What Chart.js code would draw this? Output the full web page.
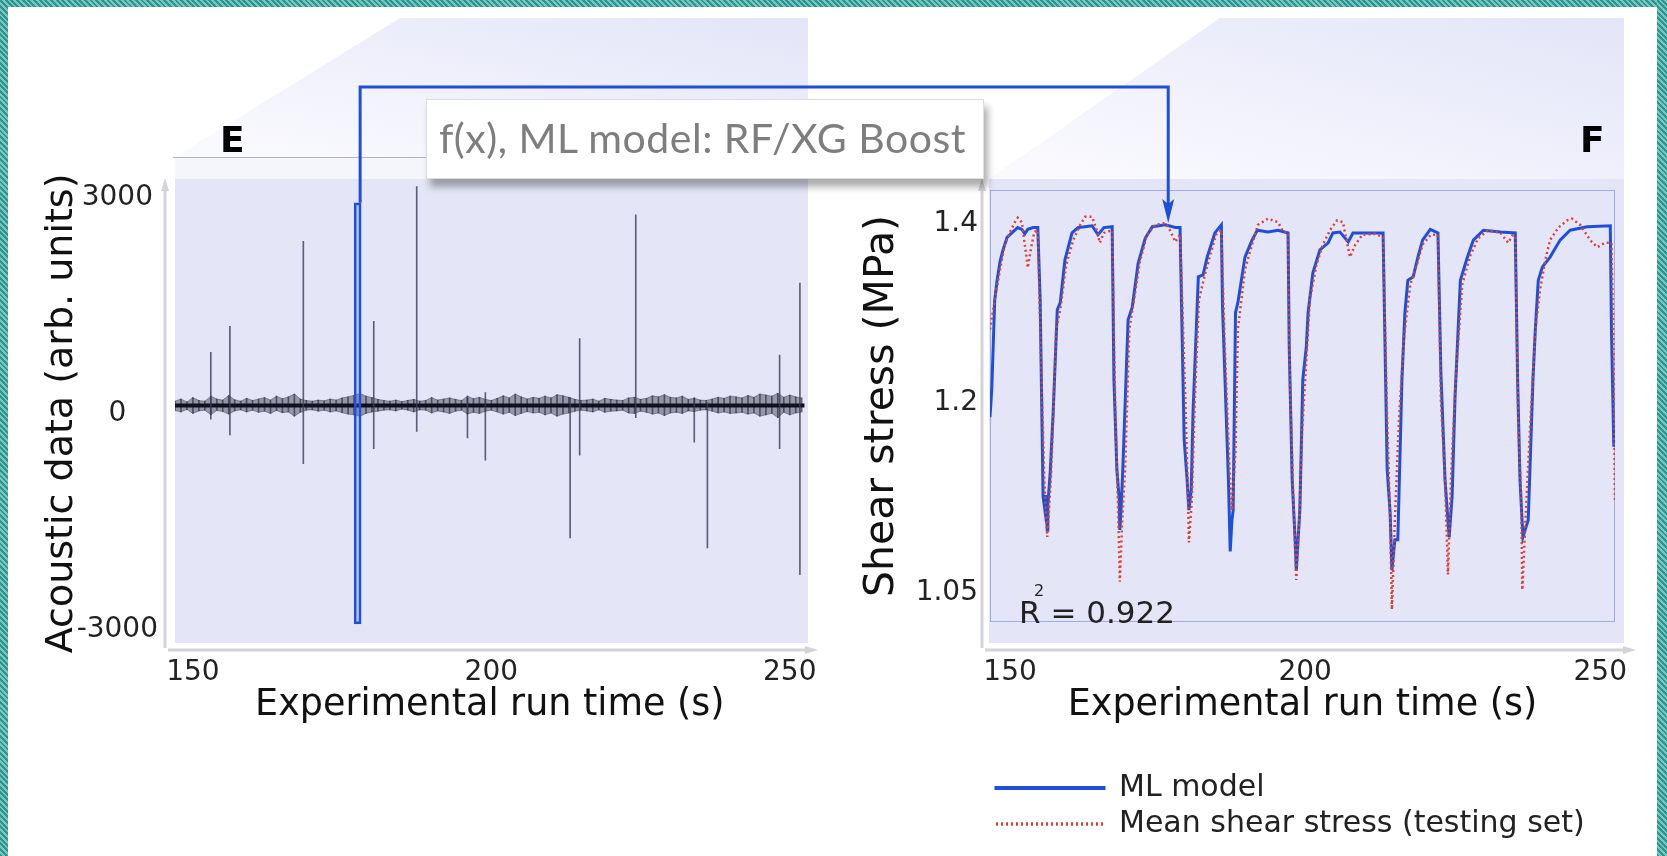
<!DOCTYPE html>
<html><head><meta charset="utf-8">
<script src="https://cdn.jsdelivr.net/npm/chart.js@4.4.1/dist/chart.umd.min.js"></script>
<style>
html,body{margin:0;padding:0;background:#fff;}
#page{position:relative;width:1667px;height:856px;overflow:hidden;background:#fff;font-family:"DejaVu Sans",sans-serif;}
.abs{position:absolute;}
.teal{position:absolute;background:repeating-linear-gradient(45deg,#2c9590 0px,#2c9590 2px,#79c6c1 2px,#79c6c1 4px);z-index:6;}
#box{position:absolute;left:426px;top:99px;width:558px;height:80px;background:#fff;border:1px solid #dcdcdc;box-sizing:border-box;box-shadow:4px 8px 7px rgba(0,0,0,0.32);z-index:4;font-family:Lato,"Open Sans",sans-serif;font-size:41px;color:#7e7e7e;line-height:76px;padding-left:12px;white-space:nowrap;letter-spacing:0.5px;}
.lbl{position:absolute;font-family:"DejaVu Sans",sans-serif;font-weight:bold;font-size:36px;line-height:36px;color:#000;z-index:4;}
#r2{position:absolute;left:1019px;top:594px;font-size:31px;line-height:36px;color:#222;z-index:4;white-space:pre;}
#r2s{position:absolute;left:1034px;top:583px;font-size:16px;line-height:16px;color:#222;z-index:4;}
</style></head>
<body><div id="page">
<svg class="abs" style="left:0;top:0;z-index:0" width="1667" height="856">
<defs>
<linearGradient id="gT" x1="0" y1="1" x2="1" y2="0">
<stop offset="0" stop-color="#fbfbfe"/><stop offset="1" stop-color="#e3e5f8"/>
</linearGradient>
</defs>
<polygon points="175,157 400,18 808,18 808,157" fill="url(#gT)"/>
<rect x="175" y="157" width="633" height="22" fill="#f5f6fc"/>
<line x1="173" y1="157.5" x2="808" y2="157.5" stroke="#b3b3bf" stroke-width="1"/>
<rect x="175" y="179" width="633" height="464" fill="#e4e6f8"/>
<polygon points="989,179 1220,18 1624,18 1624,179" fill="url(#gT)"/>
<rect x="989" y="179" width="635" height="464" fill="#e4e6f8"/>
<g stroke="#d3d3d8" stroke-width="3" fill="#d3d3d8">
<line x1="165" y1="648" x2="165" y2="190"/><polygon points="165,178 161,191 169,191" stroke="none"/>
<line x1="168" y1="650" x2="806" y2="650"/><polygon points="818,650 805,646 805,654" stroke="none"/>
<line x1="982" y1="648" x2="982" y2="190"/><polygon points="982,178 978,191 986,191" stroke="none"/>
<line x1="985" y1="650" x2="1624" y2="650"/><polygon points="1636,650 1623,646 1623,654" stroke="none"/>
</g>
</svg>
<canvas id="cE" class="abs" style="left:0;top:150px;z-index:1" width="830" height="600"></canvas>
<canvas id="cF" class="abs" style="left:840px;top:150px;z-index:1" width="827" height="706"></canvas>
<canvas id="ov" class="abs" style="left:0;top:0;z-index:3;pointer-events:none" width="1667" height="856"></canvas>
<div id="box">f(x), ML model: RF/XG Boost</div>
<div class="lbl" style="left:220px;top:122px;">E</div>
<div class="lbl" style="left:1580px;top:122px;">F</div>
<div id="r2">R = 0.922</div>
<div id="r2s">2</div>
<div class="teal" style="left:0;top:0;width:8px;height:856px;"></div>
<div class="teal" style="left:0;top:0;width:1667px;height:7px;"></div>
<div class="teal" style="left:1657px;top:0;width:10px;height:856px;"></div>
</div>
<script>
// ---------- Panel E : acoustic data ----------
const E_X_TICKS = [150, 200, 250];
const E_Y_TICKS = [-3000, 0, 3000];
const NOISE_T0 = 147;          // first noise bin (s), 1 s bins
const NOISE_BASE = 110;        // centre of the acoustic noise band
const NOISE_HI = [170,200,160,220,180,170,240,200,185,250,
 190,170,210,180,200,220,185,240,205,230,
 270,200,180,170,185,175,200,185,215,230,
 250,280,240,220,195,180,170,185,165,180,
 195,170,180,220,185,200,215,195,180,240,
 205,225,195,180,210,245,215,270,230,200,
 225,210,240,215,260,245,225,195,180,185,
 200,170,210,195,185,180,215,225,195,210,
 245,230,260,225,215,240,195,210,185,180,
 200,225,210,240,230,215,250,225,270,255,
 240,280,225,255,230,215];
const NOISE_LO = [40,20,55,0,35,45,-20,40,25,-10,
 35,50,20,45,15,30,0,40,10,20,
 -40,15,45,50,30,45,20,35,10,-10,
 -20,-40,0,20,30,45,50,35,60,45,
 20,50,45,5,35,20,0,30,45,-10,
 15,0,30,45,20,-10,15,-30,0,25,
 5,15,-20,5,-40,-10,5,30,45,35,
 20,50,15,30,35,45,5,0,30,15,
 -10,5,-30,5,15,0,35,25,45,50,
 30,5,20,0,5,15,-10,5,-40,-20,
 0,-60,15,-20,5,20];
const SPIKE_T  = [153.0,156.2,168.5,180.3,187.5,196.0,199.0,213.2,214.8,224.2,234.0,236.2,248.3,251.7];
const SPIKE_HI = [850,1210,2390,1280,3150,220,290,220,1040,2760,220,150,810,1810];
const SPIKE_LO = [-80,-300,-700,-490,-250,-340,-650,-1730,-580,-60,-400,-1870,-490,-2240];
const WINDOW_T = 177.6;        // selected window (blue rectangle)
const WINDOW_H = 2925;

// ---------- Panel F : shear stress ----------
const F_X_TICKS = [150, 200, 250];
const F_Y_TICKS = [0.988, 1.2, 1.4];
const F_Y_LABELS = ['1.05', '1.2', '1.4'];
const ML_T = [146.6,146.9,147.4,147.8,148.3,148.8,149.5,150.3,151.3,152.0,152.5,153.0,153.9,154.7,155.1,155.4,155.6,155.9,156.1,156.3,156.4,156.8,157.3,158.0,158.5,159.3,160.5,161.5,162.7,163.9,164.9,165.9,167.3,167.6,168.1,168.5,168.6,168.8,169.1,170.0,170.7,171.7,172.9,174.1,176.3,178.0,178.8,179.5,180.0,180.3,180.7,181.0,181.9,182.7,183.4,184.7,185.8,186.0,187.0,187.3,187.6,187.8,188.2,188.6,189.8,191.0,191.9,193.7,195.4,197.1,197.3,197.8,198.3,198.5,198.8,199.1,199.6,200.2,200.5,201.3,202.5,203.9,204.7,205.9,207.3,208.1,211.0,213.2,213.9,214.4,214.7,215.2,215.7,216.4,216.9,217.4,218.3,219.1,219.9,221.2,222.5,223.0,223.7,224.4,224.9,225.4,226.3,227.5,228.5,230.2,233.1,235.6,236.0,236.4,236.9,237.8,238.6,239.0,239.5,240.2,241.5,243.2,244.9,247.8,251.7,251.9,252.3];
const ML_V = [1.184,1.215,1.315,1.337,1.358,1.371,1.385,1.390,1.396,1.394,1.389,1.394,1.396,1.396,1.315,1.181,1.095,1.080,1.097,1.058,1.086,1.122,1.189,1.304,1.312,1.360,1.390,1.396,1.397,1.398,1.388,1.396,1.397,1.226,1.125,1.092,1.058,1.080,1.125,1.293,1.307,1.356,1.384,1.397,1.399,1.396,1.396,1.159,1.114,1.080,1.103,1.189,1.341,1.343,1.363,1.390,1.399,1.307,1.114,1.034,1.069,1.080,1.301,1.312,1.363,1.382,1.393,1.391,1.393,1.390,1.263,1.114,1.047,1.013,1.047,1.080,1.226,1.263,1.301,1.345,1.371,1.379,1.390,1.391,1.380,1.390,1.390,1.390,1.125,1.077,1.013,1.047,1.047,1.226,1.301,1.337,1.341,1.363,1.382,1.394,1.390,1.234,1.114,1.050,1.095,1.207,1.337,1.363,1.382,1.393,1.391,1.390,1.226,1.114,1.050,1.069,1.226,1.282,1.337,1.352,1.363,1.382,1.393,1.397,1.398,1.282,1.151];
const MEAN_T = [146.6,147.4,148.3,149.1,150.0,150.8,151.3,152.0,152.5,153.0,153.5,154.1,154.7,155.2,155.8,156.3,156.6,156.9,157.3,157.8,158.5,159.5,160.7,161.9,162.7,163.9,164.7,165.2,165.9,167.3,167.8,168.3,168.6,169.0,169.5,170.2,171.0,172.0,173.2,174.6,176.3,177.1,178.0,178.8,179.7,180.2,180.3,180.8,181.3,182.0,183.0,183.9,184.9,185.8,186.4,187.2,187.6,188.2,188.6,189.8,191.0,192.0,193.7,195.4,196.3,197.1,197.4,198.0,198.5,199.0,199.5,200.2,200.8,201.9,203.0,204.2,205.4,206.4,207.6,208.5,209.7,211.9,213.2,213.9,214.4,214.7,215.2,215.9,216.7,217.8,218.9,219.9,221.3,222.5,223.0,223.7,224.2,224.7,225.5,226.6,228.0,229.3,231.0,233.1,234.4,235.1,235.6,236.1,236.6,236.8,237.5,238.1,239.0,239.8,240.7,241.5,242.9,244.4,245.2,246.6,248.3,249.5,250.8,251.9,252.2,252.5];
const MEAN_V = [1.282,1.315,1.349,1.377,1.391,1.402,1.407,1.402,1.377,1.351,1.371,1.391,1.393,1.259,1.114,1.050,1.080,1.114,1.181,1.282,1.304,1.354,1.382,1.399,1.408,1.408,1.393,1.379,1.390,1.393,1.203,1.080,1.000,1.069,1.125,1.282,1.315,1.358,1.388,1.399,1.401,1.393,1.380,1.388,1.203,1.080,1.044,1.092,1.203,1.315,1.343,1.365,1.388,1.393,1.259,1.125,1.080,1.147,1.282,1.349,1.377,1.399,1.406,1.402,1.391,1.390,1.226,1.092,1.002,1.069,1.170,1.248,1.315,1.354,1.377,1.393,1.404,1.402,1.363,1.377,1.388,1.389,1.385,1.181,1.069,0.969,1.069,1.181,1.270,1.332,1.354,1.377,1.388,1.388,1.203,1.114,1.008,1.114,1.226,1.332,1.365,1.384,1.393,1.390,1.379,1.387,1.387,1.181,1.092,0.991,1.092,1.170,1.282,1.326,1.360,1.382,1.396,1.404,1.406,1.399,1.382,1.374,1.379,1.379,1.282,1.088];
const ARROW_T = 176.8;   // where the connector arrow points in panel F
const ARROW_V = 1.401;

// ---------- charts ----------
Chart.defaults.font.family = '"DejaVu Sans", sans-serif';
Chart.defaults.color = '#222';
const BLUE = '#1f4fd8';
const noGrid = {display:false, drawTicks:false, tickLength:0};

const chartE = new Chart(document.getElementById('cE'), {
  type: 'line',
  data: { datasets: [
    { type:'bar', label:'window', grouped:false, data:[{x:WINDOW_T, y:[-WINDOW_H, WINDOW_H]}],
      barThickness:7, backgroundColor:'rgba(70,110,235,0.28)', borderColor:BLUE, borderWidth:2, borderSkipped:false },
    { type:'bar', label:'spikes', grouped:false,
      data: SPIKE_T.map((t,i)=>({x:t, y:[SPIKE_LO[i], SPIKE_HI[i]]})),
      barThickness:1, backgroundColor:'rgba(60,60,88,0.8)', borderWidth:0 },
    { label:'core', data:[{x:147, y:NOISE_BASE},{x:252.5, y:NOISE_BASE}],
      borderColor:'#10101e', borderWidth:4, pointRadius:0, fill:false },
    { type:'bar', label:'noise hairs', grouped:false,
      data: NOISE_HI.map((v,i)=>({x:NOISE_T0+i, y:[NOISE_LO[i], v]})),
      barThickness:1, backgroundColor:'rgba(20,20,40,0.55)', borderWidth:0 },
    { label:'noise hi', data: NOISE_HI.map((v,i)=>({x:NOISE_T0+i, y:v})),
      borderColor:'rgba(20,20,40,0.35)', borderWidth:1, backgroundColor:'rgba(20,20,40,0.38)', fill:'+1', pointRadius:0, tension:0 },
    { label:'noise lo', data: NOISE_LO.map((v,i)=>({x:NOISE_T0+i, y:v})),
      borderColor:'rgba(20,20,40,0.35)', borderWidth:1, pointRadius:0, fill:false, tension:0 }
  ]},
  options: {
    responsive:false, animation:false, events:[],
    layout:{padding:{left:0, top:29, right:22, bottom:0}},
    plugins:{legend:{display:false}, tooltip:{enabled:false}},
    scales:{
      x:{ type:'linear', min:147, max:252.5, offset:false,
        afterBuildTicks: s => { s.ticks = E_X_TICKS.map(v=>({value:v})); },
        afterFit: s => { s.height = 107; },
        grid: noGrid, border:{display:false},
        ticks:{ font:{size:28}, color:'#222', padding:13, maxRotation:0, autoSkip:false, callback:v=>String(v) },
        title:{ display:true, text:'Experimental run time (s)', font:{size:36.5, lineHeight:1.2}, color:'#111', padding:{top:0, bottom:22.1} } },
      y:{ type:'linear', min:-3190, max:3190,
        afterBuildTicks: s => { s.ticks = E_Y_TICKS.map(v=>({value:v})); },
        afterFit: s => { s.width = 175; },
        grid: noGrid, border:{display:false},
        ticks:{ font:{size:28}, color:'#222', padding:17, crossAlign:'center', callback:v=>String(v) },
        title:{ display:true, text:'Acoustic data (arb. units)', font:{size:38, lineHeight:1.2}, color:'#111', padding:{top:39.2, bottom:0} } }
    }
  }
});

const frameF = { id:'frameF', beforeDatasetsDraw(chart){
  const {ctx, chartArea:a} = chart; ctx.save();
  ctx.strokeStyle='rgba(110,120,205,0.55)'; ctx.lineWidth=1;
  ctx.strokeRect(a.left+0.5, a.top+0.5, a.right-a.left-1, a.bottom-a.top-1); ctx.restore(); } };

const chartF = new Chart(document.getElementById('cF'), {
  type:'line',
  data:{ datasets:[
    { label:'ML model', data: ML_T.map((t,i)=>({x:t, y:ML_V[i]})),
      borderColor:BLUE, backgroundColor:BLUE, borderWidth:3, pointRadius:0, tension:0, fill:false },
    { label:'Mean shear stress (testing set)', data: MEAN_T.map((t,i)=>({x:t, y:MEAN_V[i]})),
      borderColor:'#d8433b', backgroundColor:'transparent', borderWidth:2.5, borderDash:[2,3],
      pointRadius:0, tension:0, fill:false, order:-1 }
  ]},
  options:{
    responsive:false, animation:false, events:[],
    layout:{padding:{left:0, top:40, right:52, bottom:7}},
    plugins:{
      legend:{ display:true, position:'bottom', align:'start', fullSize:false,
        labels:{ boxWidth:108, boxHeight:1, padding:6, font:{size:30}, color:'#222',
          sort:(a,b)=>a.datasetIndex-b.datasetIndex } },
      tooltip:{enabled:false}
    },
    scales:{
      x:{ type:'linear', min:146.6, max:252.5, offset:false,
        afterBuildTicks: s => { s.ticks = F_X_TICKS.map(v=>({value:v})); },
        afterFit: s => { s.height = 145; },
        grid: noGrid, border:{display:false},
        ticks:{ font:{size:28}, color:'#222', padding:34, maxRotation:0, autoSkip:false, callback:v=>String(v) },
        title:{ display:true, text:'Experimental run time (s)', font:{size:36.5, lineHeight:1.2}, color:'#111', padding:{top:0, bottom:39.1} } },
      y:{ type:'linear', min:0.955, max:1.438,
        afterBuildTicks: s => { s.ticks = F_Y_TICKS.map(v=>({value:v})); },
        afterFit: s => { s.width = 150; },
        grid: noGrid, border:{display:false},
        ticks:{ font:{size:28}, color:'#222', padding:12, callback:(v,i)=>F_Y_LABELS[i] },
        title:{ display:true, text:'Shear stress (MPa)', font:{size:41, lineHeight:1.2}, color:'#111', padding:{top:17.4, bottom:0} } }
    }
  },
  plugins:[frameF]
});

// connector from the selected window (E) to the prediction (F)
(function(){
  const ctx = document.getElementById('ov').getContext('2d');
  const x0 = chartE.scales.x.getPixelForValue(WINDOW_T) + 2.5;
  const y0 = chartE.scales.y.getPixelForValue(WINDOW_H) + 150;
  const x1 = chartF.scales.x.getPixelForValue(ARROW_T) + 840;
  const y1 = chartF.scales.y.getPixelForValue(ARROW_V) + 150;
  const yTop = 87;
  ctx.strokeStyle = BLUE; ctx.lineWidth = 3; ctx.lineJoin = 'miter';
  ctx.beginPath(); ctx.moveTo(x0, y0); ctx.lineTo(x0, yTop); ctx.lineTo(x1, yTop); ctx.lineTo(x1, y1 - 18); ctx.stroke();
  ctx.fillStyle = BLUE; ctx.beginPath();
  ctx.moveTo(x1, y1); ctx.lineTo(x1 - 6, y1 - 24); ctx.lineTo(x1, y1 - 19); ctx.lineTo(x1 + 6, y1 - 24); ctx.closePath(); ctx.fill();
})();
</script>
</body></html>
